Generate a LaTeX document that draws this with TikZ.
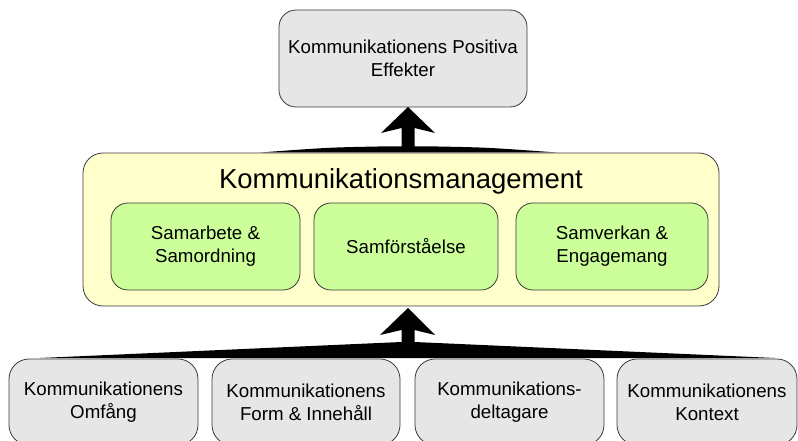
\documentclass[tikz,border=0pt]{standalone}
\usepackage{fontspec}
\setmainfont{Liberation Sans}
\usetikzlibrary{calc}
\definecolor{boxgray}{HTML}{E6E6E6}
\definecolor{mgmtyellow}{HTML}{FFFFCC}
\definecolor{partgreen}{HTML}{CCFF99}
\definecolor{edgegray}{HTML}{3A3A3A}
\tikzset{
  card/.style={draw=edgegray, line width=0.8pt, rounded corners=17pt,
    inner sep=0pt, outer sep=0pt, align=center,
    font=\fontsize{18.7}{23}\selectfont},
  graybox/.style={card, fill=boxgray},
  greenbox/.style={card, fill=partgreen, minimum height=87pt},
  mgmtbox/.style={draw=edgegray, line width=0.8pt, rounded corners=20pt,
    fill=mgmtyellow, inner sep=0pt, outer sep=0pt,
    minimum width=636pt, minimum height=153pt},
  bigarrow/.style={fill=black, draw=none}
}
\begin{document}
\begin{tikzpicture}[x=1pt,y=-1pt]
\useasboundingbox (0,0) rectangle (798,441);
\clip (0,0) rectangle (798,441);

% effect box at the top
\node[graybox, minimum width=248pt, minimum height=97pt] (effect) at (403,58.5)
  {Kommunikationens Positiva\\Effekter};

% management frame with its three parts
\node[mgmtbox] (mgmt) at (401,229.5) {};
\node[font=\fontsize{27.5}{30}\selectfont, inner sep=0pt] (title) at (401,181)
  {Kommunikationsmanagement};
\node[greenbox, minimum width=189pt] (p1) at (205.5,246.5) {Samarbete \&\\Samordning};
\node[greenbox, minimum width=184pt] (p2) at (406,246.5) {Samförståelse};
\node[greenbox, minimum width=192pt] (p3) at (612,246.5) {Samverkan \&\\Engagemang};

% the four input factors
\node[graybox, rounded corners=20pt, minimum width=189pt, minimum height=86pt] (f1) at (103.5,402)
  {Kommunikationens\\Omfång};
\node[graybox, rounded corners=20pt, minimum width=188pt, minimum height=86pt] (f2) at (306,402)
  {Kommunikationens\\Form \& Innehåll};
\node[graybox, rounded corners=20pt, minimum width=189pt, minimum height=86pt] (f3) at (509.5,402)
  {Kommunikations-\\deltagare};
\node[graybox, rounded corners=20pt, minimum width=180pt, minimum height=86pt] (f4) at (707,402)
  {Kommunikationens\\Kontext};

% anchor points for the two block arrows
\coordinate (uptip) at ($(effect.south)+(5,0)$);
\coordinate (upbase) at ($(mgmt.north)+(7,-0.5)$);
\coordinate (lowtip) at ($(mgmt.south)+(7,2)$);
\coordinate (lowbase) at ($(f3.north west)!0.5!(f2.north east)+(0,-0.5)$);

% upper arrow: fan on the frame, shaft and head up to the effect box
\path[bigarrow]
  ($(upbase)+(-148,0)$) .. controls ($(upbase)+(-80,-5)$) .. ($(upbase)+(-30,-6)$)
  -- ($(upbase)+(-6.5,-6)$) -- ($(uptip)+(-6.5,21)$) -- ($(uptip)+(-27,26)$)
  -- (uptip)
  -- ($(uptip)+(27,26)$) -- ($(uptip)+(6.5,21)$) -- ($(upbase)+(6.5,-6)$)
  -- ($(upbase)+(30,-6)$) .. controls ($(upbase)+(80,-5)$) .. ($(upbase)+(149,0)$)
  -- cycle;

% lower arrow: wide fan over the factors, shaft and head up to the frame
\path[bigarrow]
  ($(f1.north west)+(31,-1)$) -- ($(lowtip)+(-6.5,34)$)
  -- ($(lowtip)+(-6.5,22)$) -- ($(lowtip)+(-28,27)$)
  -- (lowtip)
  -- ($(lowtip)+(27,27)$) -- ($(lowtip)+(6.5,22)$) -- ($(lowtip)+(6.5,34)$)
  -- ($(f4.north east)+(-22,-1)$) -- cycle;
\end{tikzpicture}
\end{document}
